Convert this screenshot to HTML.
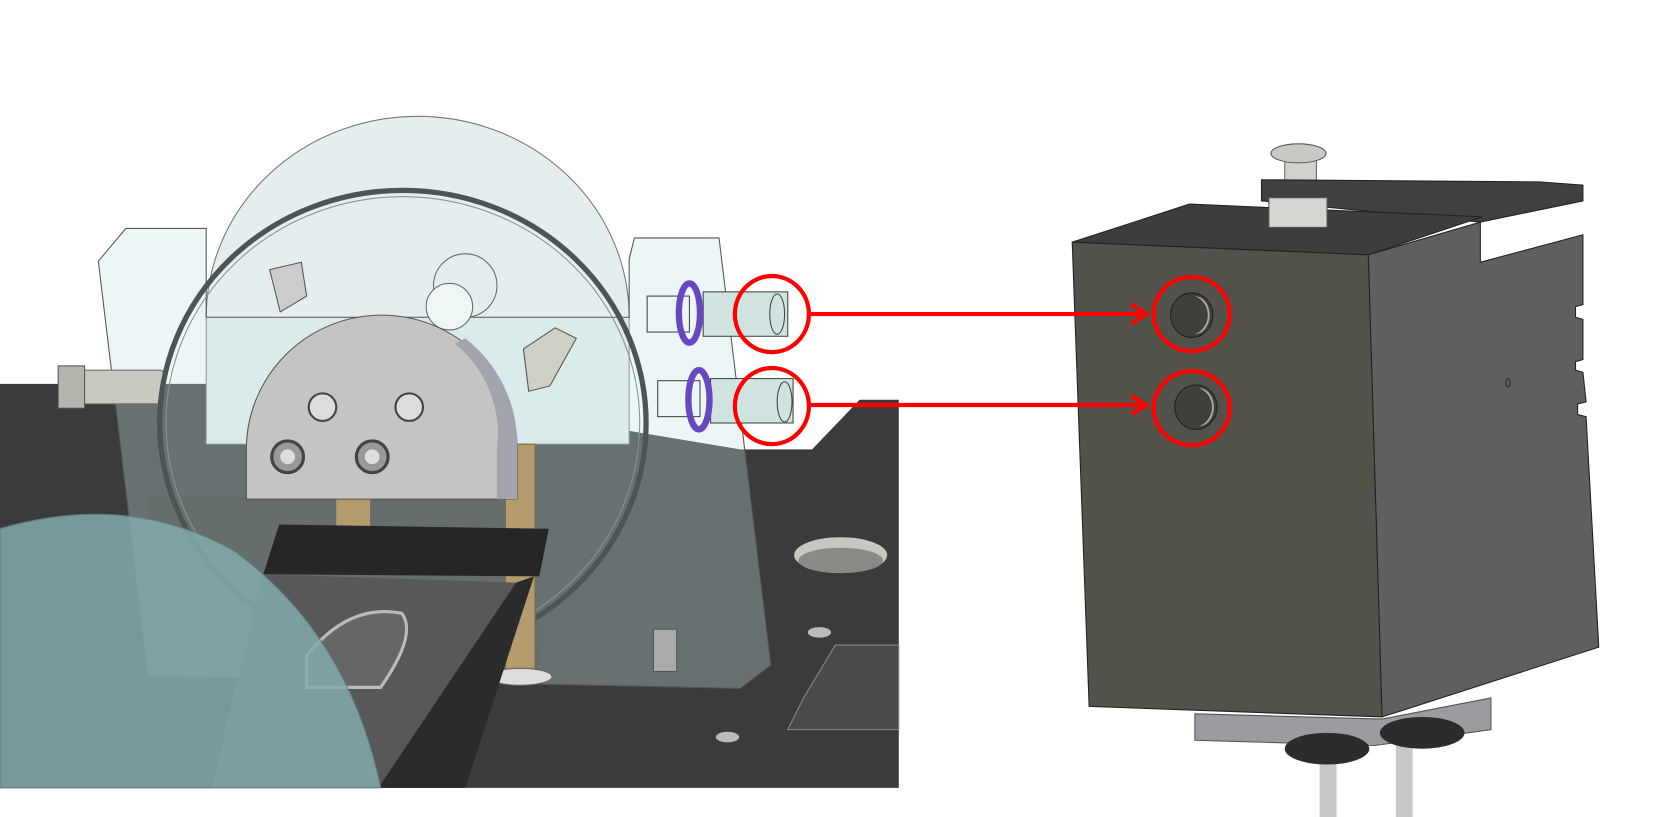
<!DOCTYPE html>
<html><head><meta charset="utf-8"><style>html,body{margin:0;padding:0;background:#fff}svg{display:block}</style></head>
<body>
<svg width="1658" height="817" viewBox="0 0 1568 772.6" preserveAspectRatio="none" xmlns="http://www.w3.org/2000/svg">
<rect width="1568" height="773" fill="#fff"/>
<!-- LEFT SCENE -->
<polygon points="0,363 300,363 520,395 700,425 768,425 813,378 850,378 850,745 0,745" fill="#3b3b3b"/>
<ellipse cx="795" cy="525" rx="44" ry="17" fill="#c8c8c0"/>
<ellipse cx="795" cy="530" rx="40" ry="12" fill="#8a8a84"/>
<ellipse cx="775" cy="598" rx="11" ry="5" fill="#bbb"/>
<ellipse cx="688" cy="697" rx="11" ry="5" fill="#bbb"/>
<polygon points="790,610 850,610 850,690 745,690 760,660" fill="#4a4a4a" stroke="#888" stroke-width="1"/>
<!-- cap disc -->
<path d="M195,300 A200,190 0 0 1 595,300 L595,420 L195,420 Z" fill="#e5eeee" stroke="#777" stroke-width="1"/>
<!-- transparent block -->
<polygon points="93,247 119,216 195,216 195,300 595,300 595,245 600,225 680,225 729,629 700,651 140,639" fill="rgba(200,228,228,0.32)" stroke="#555" stroke-width="1"/>
<polygon points="140,470 500,470 510,640 140,640" fill="rgba(90,100,100,0.25)"/>
<!-- fitting left -->
<rect x="60" y="350" width="95" height="32" rx="4" fill="#c9c9bf" stroke="#666"/>
<rect x="55" y="346" width="25" height="40" fill="#b5b5ad" stroke="#555"/>
<!-- o-ring big -->
<ellipse cx="381" cy="400" rx="230" ry="220" fill="none" stroke="#4d5554" stroke-width="5"/>
<ellipse cx="381" cy="400" rx="224" ry="214" fill="none" stroke="#8a9392" stroke-width="1"/>
<!-- brass posts -->
<rect x="318" y="465" width="32" height="40" fill="#b49b6b"/>
<rect x="478" y="420" width="28" height="220" fill="#b49b6b" stroke="#7a6a4a"/>
<ellipse cx="492" cy="640" rx="30" ry="8" fill="#ddd" stroke="#666"/>
<!-- fittings inside -->
<polygon points="255,255 285,248 290,280 265,295" fill="#ccc" stroke="#555"/>
<polygon points="495,330 525,310 545,320 520,365 500,370" fill="#cfcfc6" stroke="#555"/>
<circle cx="440" cy="270" r="30" fill="none" stroke="#666"/>
<circle cx="425" cy="290" r="22" fill="#eef6f6" stroke="#666"/>
<!-- gray half disc -->
<path d="M233,472 L233,425 A128,127 0 0 1 489,425 L489,472 Z" fill="#c4c4c2" stroke="#555"/>
<path d="M440,320 A128,127 0 0 1 489,425 L489,472 L470,472 L470,425 A110,110 0 0 0 430,325 Z" fill="#a4a4ad"/>
<circle cx="305" cy="385" r="13" fill="#ddd" stroke="#444" stroke-width="2"/>
<circle cx="387" cy="385" r="13" fill="#ddd" stroke="#444" stroke-width="2"/>
<circle cx="272" cy="432" r="15" fill="#999" stroke="#444" stroke-width="3"/>
<circle cx="352" cy="432" r="15" fill="#999" stroke="#444" stroke-width="3"/>
<circle cx="272" cy="432" r="7" fill="#ddd"/>
<circle cx="352" cy="432" r="7" fill="#ddd"/>
<!-- bar and platform -->
<polygon points="264,496 519,500 510,545 249,543" fill="#262626"/>
<polygon points="249,543 488,551 358,745 200,745" fill="#585858"/>
<polygon points="488,551 505,545 440,745 358,745" fill="#2a2a2a"/>
<path d="M290,620 Q330,570 380,580 Q395,600 360,650 L290,650 Z" fill="#666" stroke="#bbb" stroke-width="3"/>
<!-- teal cylinder -->
<path d="M0,500 Q120,465 220,520 Q330,600 360,745 L0,745 Z" fill="rgba(130,170,172,0.85)" stroke="#5f7f80"/>
<!-- spring -->
<rect x="618" y="595" width="22" height="40" fill="#aaa" stroke="#555"/>
<!-- purple o-rings and cylinders -->
<rect x="612" y="280" width="40" height="34" fill="none" stroke="#444"/>
<rect x="665" y="276" width="80" height="42" fill="#cfe3e1" stroke="#444"/>
<ellipse cx="735" cy="297" rx="7" ry="19" fill="none" stroke="#444"/>
<ellipse cx="652" cy="296" rx="10" ry="28" fill="none" stroke="#6748c2" stroke-width="6"/>
<rect x="622" y="360" width="40" height="34" fill="none" stroke="#444"/>
<rect x="672" y="358" width="78" height="42" fill="#cfe3e1" stroke="#444"/>
<ellipse cx="742" cy="380" rx="7" ry="19" fill="none" stroke="#444"/>
<ellipse cx="661" cy="378" rx="10" ry="28" fill="none" stroke="#6748c2" stroke-width="6"/>
<!-- RIGHT BLOCK -->
<rect x="1215" y="143" width="30" height="45" fill="#d0d0cc" stroke="#666"/>
<ellipse cx="1228" cy="145" rx="26" ry="9" fill="#c8c8c4" stroke="#555"/>
<polygon points="1193,170 1456,172 1497,175 1497,190 1400,210 1193,190" fill="#404040" stroke="#222"/>
<polygon points="1014,229 1125,193 1402,205 1294,241" fill="#3d3d3d" stroke="#222"/>
<polygon points="1200,187 1255,187 1255,215 1200,215" fill="#d4d4d0" stroke="#555"/>
<polygon points="1294,241 1400,210 1400,248 1497,222 1497,288 1490,290 1490,300 1497,302 1497,340 1490,342 1490,350 1497,352 1500,380 1492,382 1492,392 1500,394 1512,612 1307,678" fill="#5f5f5f" stroke="#222"/>
<polygon points="1014,229 1294,241 1307,678 1030,668" fill="#52524b" stroke="#222"/>
<ellipse cx="1426" cy="362" rx="2" ry="4" fill="none" stroke="#222"/>
<polygon points="1130,675 1307,680 1410,660 1410,690 1300,705 1130,700" fill="#9a9ca2" stroke="#555"/>
<rect x="1248" y="715" width="16" height="58" fill="#c8c8c6"/>
<rect x="1320" y="700" width="16" height="73" fill="#c8c8c6"/>
<ellipse cx="1255" cy="708" rx="40" ry="15" fill="#2c2c2c"/>
<ellipse cx="1345" cy="693" rx="40" ry="15" fill="#2c2c2c"/>
<ellipse cx="1127" cy="298" rx="20" ry="21" fill="#3f3f3c" stroke="#222"/>
<path d="M1130,280 A18,19 0 0 1 1130,316 A14,18 0 0 0 1130,280Z" fill="#aaa"/>
<ellipse cx="1131" cy="385" rx="20" ry="21" fill="#3f3f3c" stroke="#222"/>
<path d="M1134,367 A18,19 0 0 1 1134,403 A14,18 0 0 0 1134,367Z" fill="#aaa"/>
<!-- red annotations -->
<g fill="none" stroke="#f00" stroke-width="4">
<ellipse cx="730" cy="297" rx="35" ry="36"/>
<ellipse cx="730" cy="384" rx="35" ry="36"/>
<ellipse cx="1127" cy="297" rx="36" ry="35"/>
<ellipse cx="1127" cy="386" rx="36" ry="35"/>
<line x1="766" y1="297" x2="1084" y2="297"/>
<line x1="766" y1="383" x2="1084" y2="383"/>
<polyline points="1070,288 1084,297 1070,306"/>
<polyline points="1070,374 1084,383 1070,392"/>
</g>
</svg>
</body></html>
